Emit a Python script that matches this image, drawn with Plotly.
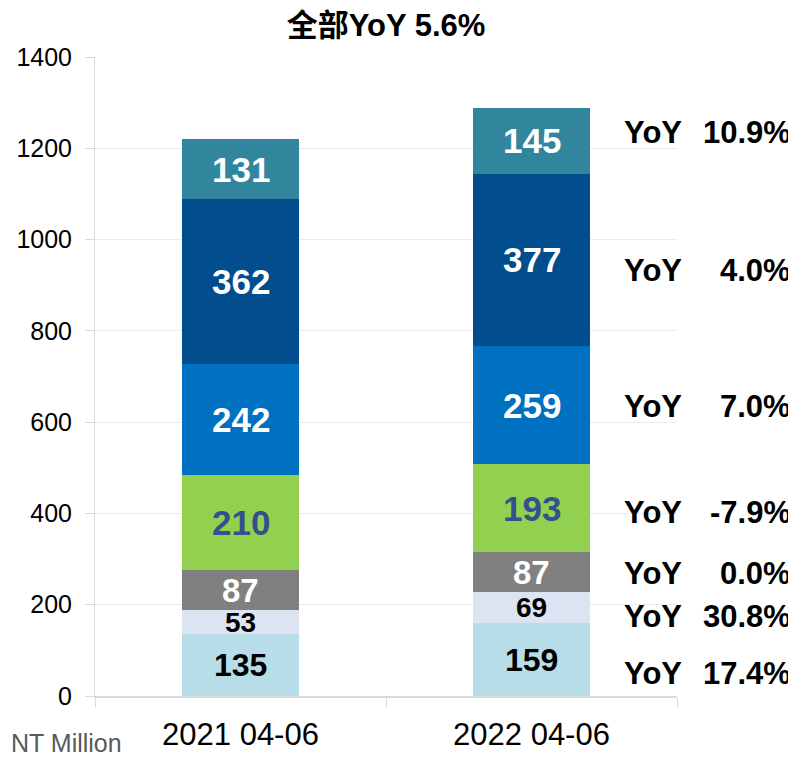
import plotly.graph_objects as go

categories = ["2021 04-06", "2022 04-06"]
series_names = ["S1", "S2", "S3", "S4", "S5", "S6", "S7"]
values_2021 = [135, 53, 87, 210, 242, 362, 131]
values_2022 = [159, 69, 87, 193, 259, 377, 145]
yoy_labels = ["17.4%", "30.8%", "0.0%", "-7.9%", "7.0%", "4.0%", "10.9%"]
title_text = "全部YoY 5.6%"
unit_text = "NT Million"

colors = ["#b7dee8", "#dce3f1", "#808080", "#92d050", "#0070c0", "#014d8e", "#31859c"]
label_colors = ["#000000", "#000000", "#ffffff", "#34508f", "#ffffff", "#ffffff", "#ffffff"]
label_sizes = [32, 28, 33, 35, 35, 35, 35]
# y positions (data units) for the right-hand YoY notes
yoy_y = [50, 175, 269, 401, 635, 933, 1234]

FONT = "Liberation Sans, Arial, Noto Sans CJK SC, sans-serif"

fig = go.Figure()
for i, name in enumerate(series_names):
    fig.add_trace(go.Bar(
        x=categories, y=[values_2021[i], values_2022[i]], name=name,
        marker=dict(color=colors[i], line=dict(width=0)), width=0.4,
        hoverinfo="skip",
    ))

annotations = []
for ci, vals in enumerate([values_2021, values_2022]):
    cum = 0
    for i, v in enumerate(vals):
        annotations.append(dict(
            x=categories[ci], y=cum + v / 2, xref="x", yref="y", text="<b>" + str(v) + "</b>",
            showarrow=False, font=dict(family=FONT, size=label_sizes[i], color=label_colors[i]),
            xanchor="center", yanchor="middle"))
        cum += v

for i, lab in enumerate(yoy_labels):
    annotations.append(dict(x=0.906, y=yoy_y[i], xref="paper", yref="y", text="<b>YoY</b>",
                            showarrow=False, xanchor="left", yanchor="middle",
                            font=dict(family=FONT, size=31, color="#000000")))
    annotations.append(dict(x=1.2, y=yoy_y[i], xref="paper", yref="y", text="<b>" + lab + "</b>",
                            showarrow=False, xanchor="right", yanchor="middle",
                            font=dict(family=FONT, size=31, color="#000000")))

annotations.append(dict(x=-0.148, y=-0.073, xref="paper", yref="paper", text=unit_text,
                        showarrow=False, xanchor="left", yanchor="middle",
                        font=dict(family=FONT, size=25, color="#595959")))

fig.update_layout(
    width=788, height=750,
    margin=dict(l=87, r=119, t=49, b=62),
    barmode="stack",
    showlegend=False,
    plot_bgcolor="white", paper_bgcolor="white",
    title=dict(text="<b>" + title_text + "</b>", x=0.5, xref="paper", y=0.977, yref="container",
               xanchor="center", yanchor="middle",
               font=dict(family=FONT, size=31, color="#000000")),
    annotations=annotations,
    xaxis=dict(tickfont=dict(family=FONT, size=31, color="#000000"),
               showline=True, linecolor="#d9d9d9", linewidth=2,
               ticks="outside", tickson="boundaries", ticklen=9, tickcolor="#d9d9d9",
               ticklabelstandoff=10, automargin=False,
               showgrid=False),
    yaxis=dict(range=[0, 1400], dtick=200, tickfont=dict(family=FONT, size=25, color="#000000"),
               showline=True, linecolor="#d9d9d9", linewidth=1,
               ticks="outside", ticklen=9, tickcolor="#d9d9d9",
               ticklabelstandoff=8, automargin=False,
               gridcolor="#ececec", gridwidth=1, zeroline=False),
)

fig.write_html("out.html")
